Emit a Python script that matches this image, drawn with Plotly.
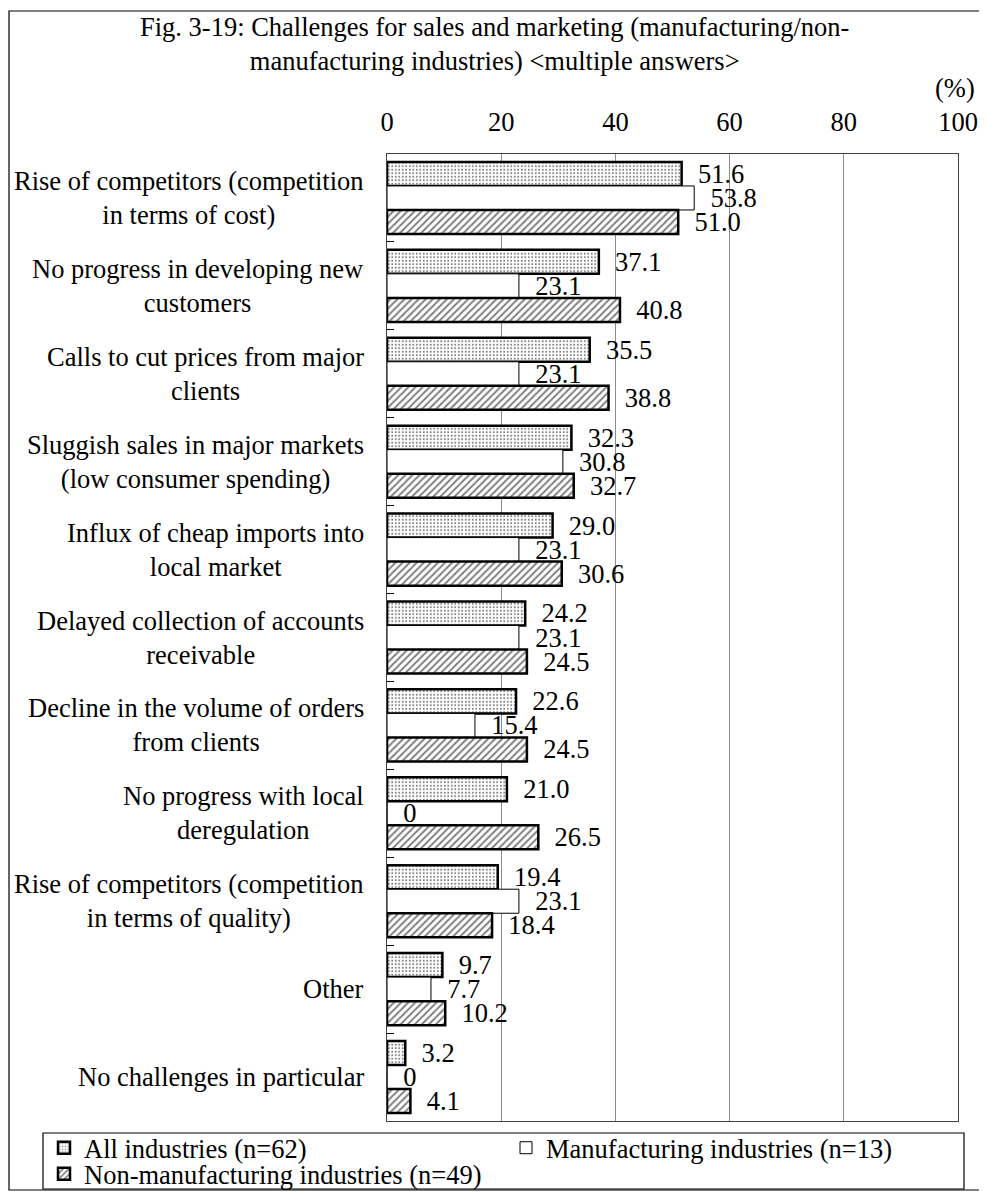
import plotly.graph_objects as go

# ---------------------------------------------------------
# Data
# ---------------------------------------------------------
categories = [
    "Rise of competitors (competition<br>in terms of cost)",
    "No progress in developing new<br>customers",
    "Calls to cut prices from major<br>clients",
    "Sluggish sales in major markets<br>(low consumer spending)",
    "Influx of cheap imports into<br>local market",
    "Delayed collection of accounts<br>receivable",
    "Decline in the volume of orders<br>from clients",
    "No progress with local<br>deregulation",
    "Rise of competitors (competition<br>in terms of quality)",
    "Other",
    "No challenges in particular",
]
all_industries = [51.6, 37.1, 35.5, 32.3, 29.0, 24.2, 22.6, 21.0, 19.4, 9.7, 3.2]
manufacturing = [53.8, 23.1, 23.1, 30.8, 23.1, 23.1, 15.4, 0, 23.1, 7.7, 0]
non_manufacturing = [51.0, 40.8, 38.8, 32.7, 30.6, 24.5, 24.5, 26.5, 18.4, 10.2, 4.1]

series_names = [
    "All industries (n=62)",
    "Manufacturing industries (n=13)",
    "Non-manufacturing industries (n=49)",
]
x_ticks = [0, 20, 40, 60, 80, 100]

# ---------------------------------------------------------
# Layout helpers (page body has an 8px margin)
# ---------------------------------------------------------
OFF = 8
W, H = 987 - OFF, 1192 - OFF
# plot area in screen pixels: x 387..958, y 154..1121
L, T = 387 - OFF, 154 - OFF
R, B = W - (958 - OFF), H - (1121 - OFF)
PW, PH = W - L - R, H - T - B

FONT = "Liberation Serif, Times New Roman, serif"
FS = 26.5


def px_x(p):
    return (p - OFF - L) / PW


def px_y(p):
    return (H - B - (p - OFF)) / PH


def fmt(v):
    return "\u00a0\u00a0" + ("0" if v == 0 else f"{v:.1f}")


fig = go.Figure()

fig.add_trace(go.Bar(
    y=categories, x=all_industries, orientation='h', name=series_names[0],
    marker=dict(color='white', line=dict(color='black', width=2.5),
                pattern=dict(shape='.', fgcolor='black', bgcolor='white', size=3.5, solidity=0.25)),
    text=[fmt(v) for v in all_industries], legend='legend', showlegend=True,
))
fig.add_trace(go.Bar(
    y=categories, x=manufacturing, orientation='h', name=series_names[1],
    marker=dict(color='white', line=dict(color='black', width=1)),
    text=[fmt(v) for v in manufacturing], legend='legend2', showlegend=True,
))
fig.add_trace(go.Bar(
    y=categories, x=non_manufacturing, orientation='h', name=series_names[2],
    marker=dict(color='white', line=dict(color='black', width=2.5),
                pattern=dict(shape='/', fgcolor='black', bgcolor='white', size=5, solidity=0.4)),
    text=[fmt(v) for v in non_manufacturing], legend='legend3', showlegend=True,
))

fig.update_traces(textposition='outside', textangle=0, constraintext='none', cliponaxis=False,
                  textfont=dict(family=FONT, size=FS, color='black'))

# category labels (centered lines, block right-aligned near the axis)
for c in categories:
    fig.add_annotation(x=px_x(366), xref='paper', y=c, yref='y', text=c, showarrow=False,
                       xanchor='right', yanchor='middle', align='center',
                       font=dict(family=FONT, size=FS, color='black'))

fig.add_annotation(
    x=px_x(494), y=px_y(44), xref='paper', yref='paper',
    text="Fig. 3-19: Challenges for sales and marketing (manufacturing/non-<br>"
         "manufacturing industries) &lt;multiple answers&gt;",
    showarrow=False, xanchor='center', yanchor='middle', align='center',
    font=dict(family=FONT, size=FS, color='black'),
)
fig.add_annotation(x=px_x(977), y=px_y(88), xref='paper', yref='paper', text="(%)",
                   showarrow=False, xanchor='right', yanchor='middle',
                   font=dict(family=FONT, size=FS, color='black'))

# outer frame and legend box
fig.add_shape(type='rect', xref='paper', yref='paper',
              x0=px_x(9), x1=px_x(983), y0=px_y(1190), y1=px_y(11),
              line=dict(color='black', width=1.2), layer='below')
fig.add_shape(type='rect', xref='paper', yref='paper',
              x0=px_x(43), x1=px_x(964), y0=px_y(1189), y1=px_y(1133),
              line=dict(color='black', width=1.2))


def legend_at(sx, sy):
    return dict(orientation='h', xref='container', yref='container',
                x=(sx - OFF) / W, y=1 - (sy - OFF) / H, xanchor='left', yanchor='middle',
                bgcolor='rgba(0,0,0,0)', borderwidth=0,
                font=dict(family=FONT, size=FS, color='black'))


fig.update_layout(
    width=W, height=H,
    margin=dict(l=L, r=R, t=T, b=B, autoexpand=False),
    plot_bgcolor='white', paper_bgcolor='white',
    font=dict(family=FONT, size=FS, color='black'),
    barmode='group', bargap=0.18, bargroupgap=0,
    showlegend=True,
    legend=legend_at(44, 1148),
    legend2=legend_at(506, 1148),
    legend3=legend_at(44, 1174),
)

fig.update_xaxes(side='top', range=[0, 100], tickvals=x_ticks, ticks='',
                 tickfont=dict(family=FONT, size=FS, color='black'), ticklabelstandoff=11,
                 showgrid=True, gridcolor='#8c8c8c', gridwidth=1, zeroline=False,
                 showline=True, linecolor='#404040', linewidth=1, mirror=True)
fig.update_yaxes(type='category', categoryorder='array', categoryarray=categories,
                 autorange='reversed', showticklabels=False, ticks='inside',
                 tickson='boundaries', ticklen=7, tickcolor='black', showgrid=False,
                 showline=True, linecolor='#404040', linewidth=1, mirror=True)

fig.write_html("out.html")
